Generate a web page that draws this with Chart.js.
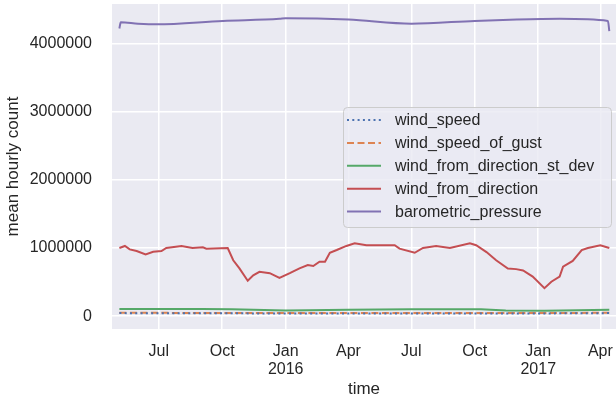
<!DOCTYPE html>
<html>
<head>
<meta charset="utf-8">
<script src="https://cdn.jsdelivr.net/npm/chart.js@4"></script>
<style>
  html, body { margin: 0; padding: 0; background: #ffffff; }
  canvas { display: block; }
</style>
</head>
<body>
<canvas id="chart" width="616" height="401"></canvas>
<script>
// values (mean hourly count)
const directionDates = ['2015-05-05','2015-05-13','2015-05-20','2015-05-30','2015-06-12','2015-06-23','2015-07-05','2015-07-12','2015-08-03','2015-08-19','2015-09-03','2015-09-08','2015-10-09','2015-10-17','2015-10-26','2015-11-07','2015-11-15','2015-11-24','2015-12-09','2015-12-23','2016-01-07','2016-01-21','2016-02-02','2016-02-10','2016-02-19','2016-02-27','2016-03-05','2016-03-15','2016-03-29','2016-04-10','2016-04-27','2016-06-07','2016-06-14','2016-07-06','2016-07-18','2016-08-06','2016-08-26','2016-09-24','2016-10-03','2016-10-18','2016-11-01','2016-11-18','2016-11-30','2016-12-10','2016-12-24','2017-01-10','2017-01-20','2017-02-01','2017-02-06','2017-02-20','2017-03-05','2017-03-14','2017-04-01','2017-04-14'];
const directionValues = [1000000,1030000,980000,955000,906000,944000,955000,1000000,1030000,1000000,1010000,990000,1000000,820000,700000,520000,600000,650000,630000,560000,630000,700000,750000,735000,800000,800000,930000,970000,1030000,1070000,1040000,1040000,990000,930000,1000000,1030000,1000000,1070000,1040000,940000,820000,700000,690000,670000,580000,410000,505000,580000,725000,810000,970000,1000000,1040000,1000000];

const pressureDates = ['2015-05-05','2015-05-07','2015-06-01','2015-06-28','2015-10-02','2015-12-23','2016-01-01','2016-04-01','2016-07-01','2016-10-01','2016-12-01','2017-02-01','2017-04-12','2017-04-14'];
const pressureValues = [4220000,4310000,4290000,4280000,4330000,4360000,4370000,4350000,4290000,4330000,4350000,4360000,4330000,4180000];

const stdevDates = ['2015-05-05','2015-09-01','2015-10-15','2016-01-01','2016-04-01','2016-07-01','2016-10-10','2016-11-15','2017-01-10','2017-04-14'];
const stdevValues = [105000,105000,100000,85000,95000,100000,100000,85000,80000,95000];

const gustDates = ['2015-05-05','2016-01-01','2017-01-01','2017-04-14'];
const gustValues = [50000,45000,45000,50000];

const speedDates = ['2015-05-05','2016-01-01','2017-01-01','2017-04-14'];
const speedValues = [45000,40000,40000,45000];

const tickDates = ['2015-07-01','2015-10-01','2016-01-01','2016-04-01','2016-07-01','2016-10-01','2017-01-01','2017-04-01'];
const tickLabels = ['Jul','Oct',['Jan','2016'],'Apr','Jul','Oct',['Jan','2017'],'Apr'];
const yTicks = [0, 1000000, 2000000, 3000000, 4000000];

const textColor = '#262626';
const fontFamily = "'Liberation Sans', Arial, sans-serif";

function dayNum(s) {
	const p = s.split('-').map(Number);
	return (Date.UTC(p[0], p[1]-1, p[2]) - Date.UTC(2015, 0, 1)) / 864e5;
}

function toPoints(dates, values) {
	return dates.map((d, i) => ({x: dayNum(d), y: values[i]}));
}

const tickDays = tickDates.map(dayNum);

const series = [
	{label: 'wind_speed', dates: speedDates, values: speedValues, color: '#4C72B0', dash: [2, 3.3]},
	{label: 'wind_speed_of_gust', dates: gustDates, values: gustValues, color: '#DD8452', dash: [7, 3.5]},
	{label: 'wind_from_direction_st_dev', dates: stdevDates, values: stdevValues, color: '#55A868', dash: []},
	{label: 'wind_from_direction', dates: directionDates, values: directionValues, color: '#C44E52', dash: []},
	{label: 'barometric_pressure', dates: pressureDates, values: pressureValues, color: '#8172B3', dash: [], smooth: true},
];

// axes background + legend box inside the plot, seaborn style
const bgPlugin = {
	id: 'plotBg',
	beforeDraw(chart) {
		const {ctx, chartArea: a} = chart;
		ctx.save();
		ctx.fillStyle = '#EAEAF2';
		ctx.fillRect(a.left, a.top, a.right - a.left, a.bottom - a.top);
		ctx.restore();
	}
};

const legendPlugin = {
	id: 'innerLegend',
	afterDraw(chart) {
		const ctx = chart.ctx;
		const x0 = 343, y0 = 107, w = 268, h = 120, r = 4;
		ctx.save();
		ctx.beginPath();
		ctx.roundRect(x0 + 0.5, y0 + 0.5, w, h, r);
		ctx.fillStyle = 'rgba(234,234,242,0.8)';
		ctx.fill();
		ctx.strokeStyle = '#CCCCCC';
		ctx.lineWidth = 1;
		ctx.stroke();
		ctx.font = '16px ' + fontFamily;
		ctx.textBaseline = 'middle';
		ctx.fillStyle = textColor;
		series.forEach((s, i) => {
			const y = 120 + i * 22.9;
			ctx.beginPath();
			ctx.setLineDash(s.dash);
			ctx.strokeStyle = s.color;
			ctx.lineWidth = 2;
			ctx.moveTo(347, y);
			ctx.lineTo(381, y);
			ctx.stroke();
			ctx.setLineDash([]);
			ctx.fillText(s.label, 395, y + 1);
		});
		ctx.restore();
	}
};

new Chart(document.getElementById('chart'), {
	type: 'line',
	data: {
		datasets: series.map(s => ({
			label: s.label,
			data: toPoints(s.dates, s.values),
			borderColor: s.color,
			backgroundColor: s.color,
			borderWidth: 2,
			borderDash: s.dash,
			pointRadius: 0,
			fill: false,
			cubicInterpolationMode: s.smooth ? 'monotone' : 'default',
			tension: 0,
		}))
	},
	options: {
		responsive: false,
		animation: false,
		devicePixelRatio: 1,
		layout: {padding: {left: 0, right: 0, top: 4, bottom: 0}},
		plugins: {
			legend: {display: false},
			tooltip: {enabled: false},
		},
		scales: {
			x: {
				type: 'linear',
				min: 113.3,
				max: 843.7,
				afterBuildTicks: scale => { scale.ticks = tickDays.map(v => ({value: v})); },
				afterFit: scale => {
					scale.height = 72;
					scale.paddingLeft = 0;
					scale.paddingRight = 0;
				},
				grid: {color: '#ffffff', lineWidth: 1.5, drawTicks: false},
				border: {display: false},
				ticks: {
					padding: 14,
					color: textColor,
					font: {family: fontFamily, size: 16, lineHeight: 1.1},
					maxRotation: 0,
					autoSkip: false,
					callback: (v) => tickLabels[tickDays.indexOf(v)],
				},
				title: {
					display: true,
					text: 'time',
					color: textColor,
					font: {family: fontFamily, size: 17},
					padding: {top: 0, bottom: 1},
				},
			},
			y: {
				min: -188000,
				max: 4578000,
				afterBuildTicks: scale => { scale.ticks = yTicks.map(v => ({value: v})); },
				afterFit: scale => {
					scale.width = 112;
					scale.paddingTop = 0;
					scale.paddingBottom = 0;
				},
				grid: {color: '#ffffff', lineWidth: 1.5, drawTicks: false},
				border: {display: false},
				ticks: {
					padding: 20,
					color: textColor,
					font: {family: fontFamily, size: 16},
					callback: v => String(v),
				},
				title: {
					display: true,
					text: 'mean hourly count',
					color: textColor,
					font: {family: fontFamily, size: 17},
					padding: {top: 3, bottom: 0},
				},
			},
		},
	},
	plugins: [bgPlugin, legendPlugin],
});
</script>
</body>
</html>
